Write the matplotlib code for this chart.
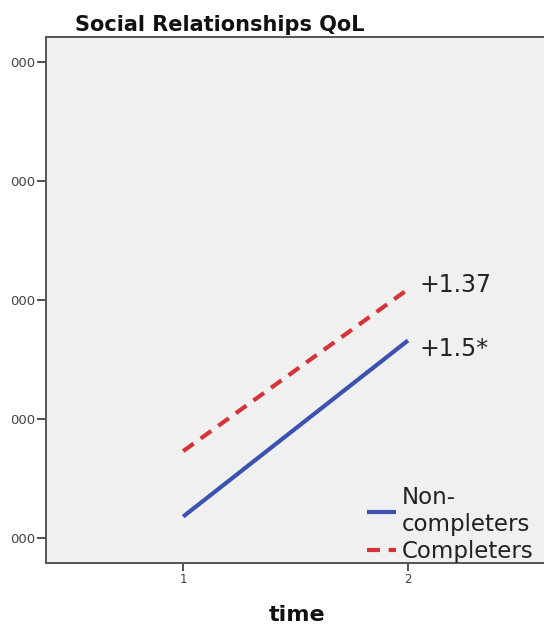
import matplotlib.pyplot as plt

# Data
time = [1, 2]
non_completers = [13.18, 14.66]
completers = [13.73, 15.09]
y_ticks = [13, 14, 15, 16, 17]
y_tick_labels = ['000', '000', '000', '000', '000']
change_labels = ['+1.5*', '+1.37']

blue = '#3D52AE'
red = '#D6323A'

fig = plt.figure(figsize=(5.44, 6.28), dpi=100)
ax = fig.add_axes([46 / 544, 65 / 628, 1 - 46 / 544, (563 - 37) / 628])
ax.set_facecolor('#F0F0F0')

ax.plot(time, non_completers, color=blue, linewidth=3, solid_capstyle='butt',
        label='Non-\ncompleters')
ax.plot(time, completers, color=red, linewidth=3, linestyle=(0, (3.1, 2.1)),
        dash_capstyle='butt', label='Completers')

# change annotations at time 2
ax.annotate(change_labels[0], xy=(time[1], non_completers[1]), xytext=(8, -6),
            textcoords='offset points', fontsize=17, va='center', ha='left',
            color='#222222')
ax.annotate(change_labels[1], xy=(time[1], completers[1]), xytext=(8, 3),
            textcoords='offset points', fontsize=17, va='center', ha='left',
            color='#222222')

ax.set_xlim(0.39, 2.605)
ax.set_ylim(12.79, 17.21)
ax.set_xticks(time)
ax.set_xticklabels(['1', '2'])
ax.set_yticks(y_ticks)
ax.set_yticklabels(y_tick_labels)
ax.tick_params(axis='y', length=6.5, width=1.2, color='#333333', labelsize=9.5,
               labelcolor='#444444', pad=1)
ax.tick_params(axis='x', length=5.5, width=1.2, color='#333333', labelsize=8.5,
               labelcolor='#444444', pad=2)

for side in ['left', 'bottom', 'top']:
    ax.spines[side].set_color('#555555')
    ax.spines[side].set_linewidth(1.4)
ax.spines['right'].set_visible(False)

leg = ax.legend(loc='lower right', bbox_to_anchor=(1.012, -0.03), frameon=False,
                fontsize=16.5, handlelength=1.3, handletextpad=0.25,
                labelspacing=0.15, borderpad=0.2)
for txt in leg.get_texts():
    txt.set_color('#222222')
    txt.set_linespacing(1.25)

fig.text(75 / 544, 1 - 31 / 628, 'Social Relationships QoL', fontsize=15,
         fontweight='bold', va='baseline', ha='left', color='#111111')
fig.text(297 / 544, 1 - 621 / 628, 'time', fontsize=16, fontweight='bold',
         va='baseline', ha='center', color='#111111')

fig.savefig('out.png', dpi=100)
